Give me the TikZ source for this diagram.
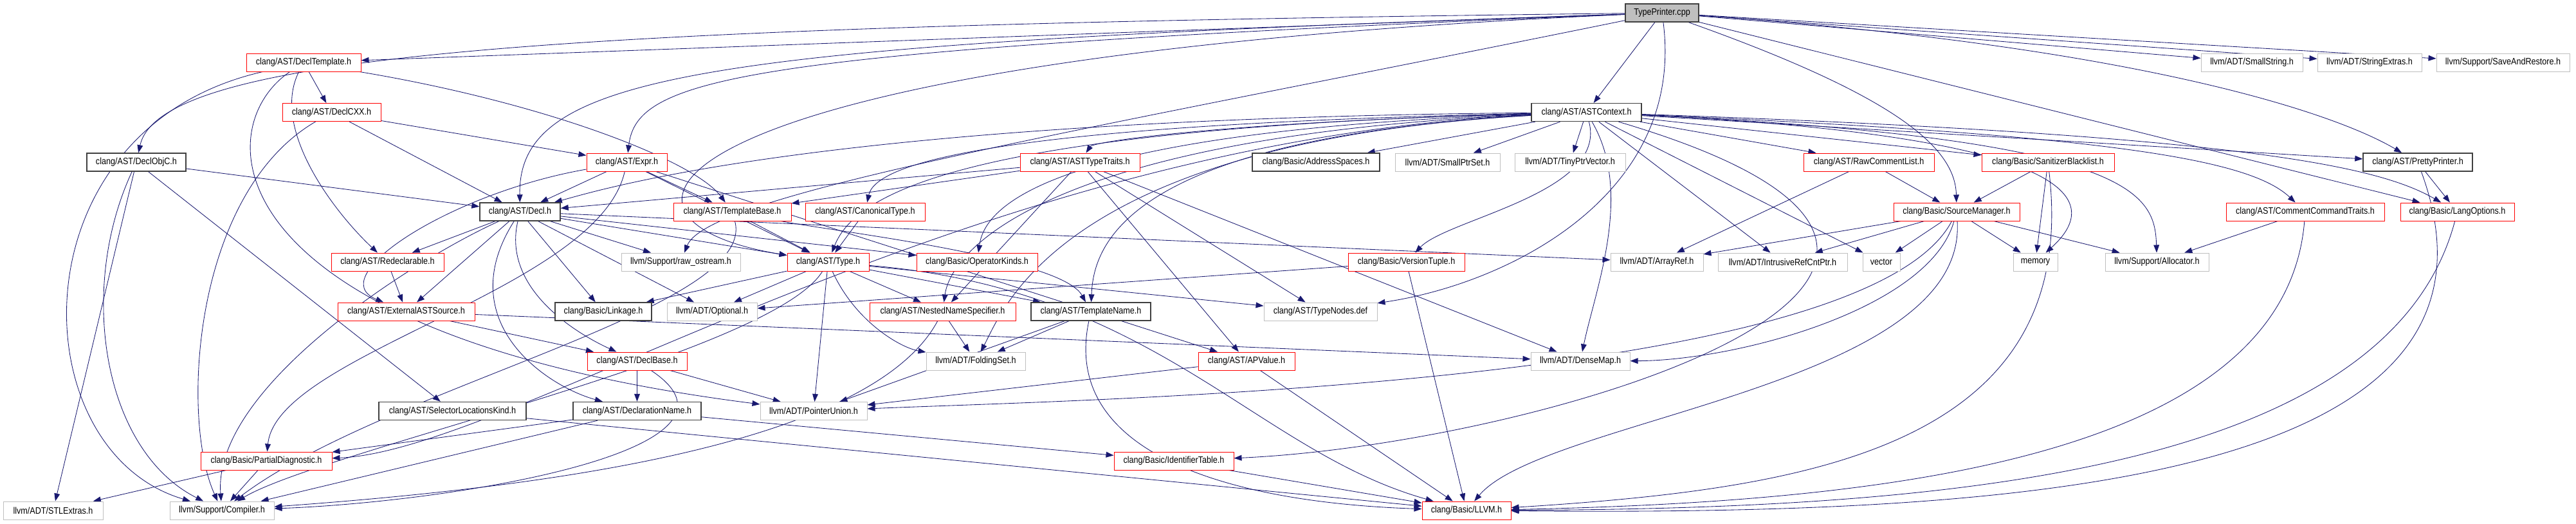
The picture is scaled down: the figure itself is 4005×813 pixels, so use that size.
\documentclass[tikz,border=0pt]{standalone}
\usepackage{fontspec}
\setmainfont{Liberation Sans}[FakeStretch=0.87]
\usepackage{tikz}
\usetikzlibrary{arrows.meta}
\usetikzlibrary{backgrounds}
\definecolor{edgeblue}{HTML}{191970}
\definecolor{boxgray}{HTML}{BFBFBF}
\definecolor{boxdark}{HTML}{404040}
\tikzset{
  file/.style={draw, fill=white, line width=0.7pt, minimum height=7mm, inner sep=0pt,
    font=\fontsize{10.3}{12}\selectfont},
  redfile/.style={file, draw=red},
  blackfile/.style={file, draw=boxdark, line width=1pt},
  grayfile/.style={file, draw=boxgray},
  srcfile/.style={file, draw=boxdark, fill=boxgray, line width=1pt},
  wd/.style={minimum width=#1*0.25mm},
  incl/.style={draw=edgeblue, line width=0.6pt, -{Triangle[length=3mm,width=2.2mm]}}
}

\begin{document}
\begin{tikzpicture}[x=0.25mm, y=-0.25mm]
		\useasboundingbox (0,0) rectangle (4005,813);
		% row 1-3
		\node[srcfile, wd=114] (tp) at (2584,20) {TypePrinter.cpp};
		\node[redfile, wd=178] (dtmpl) at (472,97) {clang/AST/DeclTemplate.h};
		\node[grayfile, wd=158] (smallstr) at (3501,97) {llvm/ADT/SmallString.h};
		\node[grayfile, wd=162] (strext) at (3684,97) {llvm/ADT/StringExtras.h};
		\node[grayfile, wd=207] (saverest) at (3891.5,97) {llvm/Support/SaveAndRestore.h};
		\node[redfile, wd=153] (dcxx) at (515.5,174.5) {clang/AST/DeclCXX.h};
		\node[blackfile, wd=171] (astctx) at (2466.5,174.5) {clang/AST/ASTContext.h};
		% row 4
		\node[blackfile, wd=154] (dobjc) at (212,252) {clang/AST/DeclObjC.h};
		\node[redfile, wd=125] (expr) at (974.5,252) {clang/AST/Expr.h};
		\node[redfile, wd=186] (tytraits) at (1679,252) {clang/AST/ASTTypeTraits.h};
		\node[blackfile, wd=198] (addrsp) at (2046,252) {clang/Basic/AddressSpaces.h};
		\node[grayfile, wd=163] (smallptr) at (2250.5,252) {llvm/ADT/SmallPtrSet.h};
		\node[grayfile, wd=172] (tinyptr) at (2441,252) {llvm/ADT/TinyPtrVector.h};
		\node[redfile, wd=203] (rawcl) at (2905.5,252) {clang/AST/RawCommentList.h};
		\node[redfile, wd=206] (sanbl) at (3184,252) {clang/Basic/SanitizerBlacklist.h};
		\node[blackfile, wd=170] (pretty) at (3759,252) {clang/AST/PrettyPrinter.h};
		% row 5
		\node[blackfile, wd=125] (decl) at (808.5,329) {clang/AST/Decl.h};
		\node[redfile, wd=183] (tbase) at (1138.5,329) {clang/AST/TemplateBase.h};
		\node[redfile, wd=186] (canon) at (1345,329) {clang/AST/CanonicalType.h};
		\node[redfile, wd=196] (srcmgr) at (3042,329) {clang/Basic/SourceManager.h};
		\node[redfile, wd=246] (cctraits) at (3584,329) {clang/AST/CommentCommandTraits.h};
		\node[redfile, wd=177] (langopts) at (3820.5,329) {clang/Basic/LangOptions.h};
		% row 6
		\node[redfile, wd=175] (redecl) at (602.5,407) {clang/AST/Redeclarable.h};
		\node[grayfile, wd=185] (rawos) at (1058.5,407) {llvm/Support/raw\_ostream.h};
		\node[redfile, wd=127] (type) at (1287.5,407) {clang/AST/Type.h};
		\node[redfile, wd=188] (opk) at (1519,407) {clang/Basic/OperatorKinds.h};
		\node[redfile, wd=181] (vtuple) at (2186.5,407) {clang/Basic/VersionTuple.h};
		\node[grayfile, wd=144] (arrayref) at (2576,407) {llvm/ADT/ArrayRef.h};
		\node[grayfile, wd=201] (intrusive) at (2771.5,407) {llvm/ADT/IntrusiveRefCntPtr.h};
		\node[grayfile, wd=58] (vector) at (2925,407) {vector};
		\node[grayfile, wd=69] (memory) at (3164.5,407) {memory};
		\node[grayfile, wd=161] (alloc) at (3353.5,407) {llvm/Support/Allocator.h};
		% row 7
		\node[redfile, wd=213] (extsrc) at (631.5,484) {clang/AST/ExternalASTSource.h};
		\node[blackfile, wd=150] (linkage) at (938,484) {clang/Basic/Linkage.h};
		\node[grayfile, wd=140] (optional) at (1107,484) {llvm/ADT/Optional.h};
		\node[redfile, wd=227] (nns) at (1465.5,484) {clang/AST/NestedNameSpecifier.h};
		\node[blackfile, wd=186] (tname) at (1696,484) {clang/AST/TemplateName.h};
		\node[grayfile, wd=176] (tnodes) at (2053,484) {clang/AST/TypeNodes.def};
		% row 8
		\node[redfile, wd=155] (declbase) at (990.5,561) {clang/AST/DeclBase.h};
		\node[grayfile, wd=154] (folding) at (1517,561) {llvm/ADT/FoldingSet.h};
		\node[redfile, wd=150] (apvalue) at (1938,561) {clang/AST/APValue.h};
		\node[grayfile, wd=154] (densemap) at (2457,561) {llvm/ADT/DenseMap.h};
		% row 9-11
		\node[blackfile, wd=229] (selloc) at (703.5,638.5) {clang/AST/SelectorLocationsKind.h};
		\node[blackfile, wd=199] (dname) at (990.5,638.5) {clang/AST/DeclarationName.h};
		\node[grayfile, wd=166] (punion) at (1265,638.5) {llvm/ADT/PointerUnion.h};
		\node[redfile, wd=204] (pdiag) at (414,716) {clang/Basic/PartialDiagnostic.h};
		\node[redfile, wd=186] (idtable) at (1825,716) {clang/Basic/IdentifierTable.h};
		\node[grayfile, wd=155] (stlx) at (82.5,793) {llvm/ADT/STLExtras.h};
		\node[grayfile, wd=162] (compiler) at (345,793) {llvm/Support/Compiler.h};
		\node[redfile, wd=138] (llvmh) at (2280,793) {clang/Basic/LLVM.h};
		%
		\begin{pgfonlayer}{background}
		% TypePrinter.cpp
		\draw[incl] (tp) -- (dtmpl);
		\draw[incl] (tp) .. controls (900,40) and (250,80) .. (dobjc);
		\draw[incl] (tp) .. controls (1100,70) and (805,110) .. (decl);
		\draw[incl] (tp) .. controls (1150,78) and (990,120) .. (expr);
		\draw[incl] (tp) .. controls (1000,90) and (880,340) .. (type);
		\draw[incl] (tp) .. controls (1700,200) and (1100,300) .. (rawos);
		\draw[incl] (tp) -- (astctx);
		\draw[incl] (tp) .. controls (2620,300) and (2350,440) .. (tnodes);
		\draw[incl] (tp) .. controls (2950,150) and (3040,230) .. (srcmgr);
		\draw[incl] (tp) -- (langopts);
		\draw[incl] (tp) .. controls (3300,70) and (3620,170) .. (pretty);
		\draw[incl] (tp) -- (smallstr);
		\draw[incl] (tp) -- (strext);
		\draw[incl] (tp) -- (saverest);
		% DeclTemplate.h, DeclCXX.h, DeclObjC.h
		\draw[incl] (dtmpl) -- (dcxx);
		\draw[incl] (dtmpl) .. controls (420,200) and (520,330) .. (redecl);
		\draw[incl] (dtmpl) .. controls (850,160) and (1080,250) .. (tbase);
		\draw[incl] (dtmpl) .. controls (20,200) and (30,700) .. (compiler);
		\draw[incl] (dtmpl) .. controls (320,200) and (330,520) .. (punion);
		\draw[incl] (dcxx) -- (decl);
		\draw[incl] (dcxx) -- (expr);
		\draw[incl] (dcxx) .. controls (300,300) and (280,650) .. (compiler);
		\draw[incl] (dobjc) -- (decl);
		\draw[incl] (dobjc) -- (selloc);
		\draw[incl] (dobjc) -- (stlx);
		\draw[incl] (dobjc) .. controls (120,450) and (160,700) .. (compiler);
		% Decl.h
		\draw[incl] (decl) -- (redecl);
		\draw[incl] (decl) -- (extsrc);
		\draw[incl] (decl) .. controls (780,450) and (900,520) .. (declbase);
		\draw[incl] (decl) .. controls (700,500) and (850,600) .. (dname);
		\draw[incl] (decl) -- (linkage);
		\draw[incl] (decl) -- (optional);
		\draw[incl] (decl) -- (rawos);
		\draw[incl] (decl) -- (type);
		\draw[incl] (decl) -- (opk);
		\draw[incl] (decl) -- (arrayref);
		\draw[incl] (decl) .. controls (650,400) and (330,600) .. (compiler);
		% Expr.h
		\draw[incl] (expr) -- (decl);
		\draw[incl] (expr) -- (tbase);
		\draw[incl] (expr) -- (type);
		\draw[incl] (expr) .. controls (700,300) and (500,430) .. (extsrc);
		\draw[incl] (expr) .. controls (930,450) and (430,550) .. (pdiag);
		\draw[incl] (expr) -- (apvalue);
		% small AST headers
		\draw[incl] (redecl) -- (extsrc);
		\draw[incl] (extsrc) -- (declbase);
		\draw[incl] (extsrc) -- (densemap);
		\draw[incl] (declbase) -- (dname);
		\draw[incl] (declbase) -- (punion);
		\draw[incl] (declbase) .. controls (1200,700) and (700,780) .. (compiler);
		\draw[incl] (dname) -- (pdiag);
		\draw[incl] (dname) -- (compiler);
		\draw[incl] (dname) -- (idtable);
		\draw[incl] (selloc) -- (llvmh);
		\draw[incl] (pdiag) -- (stlx);
		\draw[incl] (pdiag) -- (compiler);
		\draw[incl] (tbase) -- (type);
		\draw[incl] (tbase) .. controls (1300,360) and (1650,400) .. (tname);
		\draw[incl] (tbase) .. controls (1180,480) and (600,600) .. (compiler);
		\draw[incl] (canon) -- (type);
		% Type.h
		\draw[incl] (type) -- (linkage);
		\draw[incl] (type) -- (optional);
		\draw[incl] (type) -- (nns);
		\draw[incl] (type) -- (tname);
		\draw[incl] (type) .. controls (1330,500) and (1400,540) .. (folding);
		\draw[incl] (type) -- (punion);
		\draw[incl] (type) -- (tnodes);
		\draw[incl] (type) .. controls (1800,450) and (1950,700) .. (llvmh);
		\draw[incl] (type) .. controls (1200,550) and (500,700) .. (compiler);
		% ASTTypeTraits.h
		\draw[incl] (tytraits) -- (decl);
		\draw[incl] (tytraits) -- (tbase);
		\draw[incl] (tytraits) -- (nns);
		\draw[incl] (tytraits) -- (tnodes);
		\draw[incl] (tytraits) -- (apvalue);
		\draw[incl] (tytraits) -- (densemap);
		% lower headers
		\draw[incl] (nns) -- (folding);
		\draw[incl] (nns) .. controls (1350,700) and (800,760) .. (compiler);
		\draw[incl] (tname) -- (folding);
		\draw[incl] (tname) -- (punion);
		\draw[incl] (tname) .. controls (1650,700) and (1900,780) .. (llvmh);
		\draw[incl] (apvalue) -- (punion);
		\draw[incl] (apvalue) -- (llvmh);
		\draw[incl] (vtuple) -- (optional);
		\draw[incl] (vtuple) -- (llvmh);
		\draw[incl] (idtable) -- (llvmh);
		% ASTContext.h
		\draw[incl] (astctx) .. controls (1300,185) and (950,290) .. (decl);
		\draw[incl] (astctx) .. controls (1500,200) and (1330,300) .. (type);
		\draw[incl] (astctx) .. controls (1900,190) and (1700,220) .. (tytraits);
		\draw[incl] (astctx) .. controls (1500,195) and (1360,260) .. (canon);
		\draw[incl] (astctx) .. controls (1650,210) and (1480,380) .. (nns);
		\draw[incl] (astctx) .. controls (1750,215) and (1700,380) .. (tname);
		\draw[incl] (astctx) .. controls (1600,205) and (1530,330) .. (opk);
		\draw[incl] (astctx) .. controls (1500,220) and (800,700) .. (pdiag);
		\draw[incl] (astctx) .. controls (3300,420) and (2400,690) .. (idtable);
		\draw[incl] (astctx) -- (addrsp);
		\draw[incl] (astctx) -- (smallptr);
		\draw[incl] (astctx) -- (tinyptr);
		\draw[incl] (astctx) .. controls (2500,300) and (2250,340) .. (vtuple);
		\draw[incl] (astctx) .. controls (2540,300) and (2480,450) .. (densemap);
		\draw[incl] (astctx) .. controls (1650,220) and (1560,480) .. (folding);
		\draw[incl] (astctx) -- (rawcl);
		\draw[incl] (astctx) -- (sanbl);
		\draw[incl] (astctx) -- (pretty);
		\draw[incl] (astctx) .. controls (3300,210) and (3500,250) .. (cctraits);
		\draw[incl] (astctx) .. controls (3500,210) and (3700,260) .. (langopts);
		\draw[incl] (astctx) -- (intrusive);
		\draw[incl] (astctx) -- (vector);
		\draw[incl] (astctx) .. controls (3300,215) and (3250,330) .. (memory);
		\draw[incl] (astctx) .. controls (3320,215) and (3350,300) .. (alloc);
		% Basic headers
		\draw[incl] (rawcl) -- (srcmgr);
		\draw[incl] (rawcl) -- (arrayref);
		\draw[incl] (sanbl) -- (srcmgr);
		\draw[incl] (sanbl) -- (memory);
		\draw[incl] (sanbl) .. controls (3237,700) and (2800,760) .. (llvmh);
		\draw[incl] (srcmgr) -- (arrayref);
		\draw[incl] (srcmgr) -- (intrusive);
		\draw[incl] (srcmgr) -- (vector);
		\draw[incl] (srcmgr) -- (memory);
		\draw[incl] (srcmgr) -- (alloc);
		\draw[incl] (srcmgr) .. controls (3000,480) and (2700,560) .. (densemap);
		\draw[incl] (srcmgr) .. controls (2900,600) and (1700,620) .. (punion);
		\draw[incl] (srcmgr) .. controls (3060,600) and (2400,650) .. (llvmh);
		\draw[incl] (cctraits) -- (alloc);
		\draw[incl] (cctraits) .. controls (3552,720) and (2900,780) .. (llvmh);
		\draw[incl] (langopts) .. controls (3711,740) and (3000,790) .. (llvmh);
		\draw[incl] (pretty) -- (langopts);
		\draw[incl] (pretty) .. controls (3946,760) and (3100,800) .. (llvmh);
		\end{pgfonlayer}
	\end{tikzpicture}
\end{document}
